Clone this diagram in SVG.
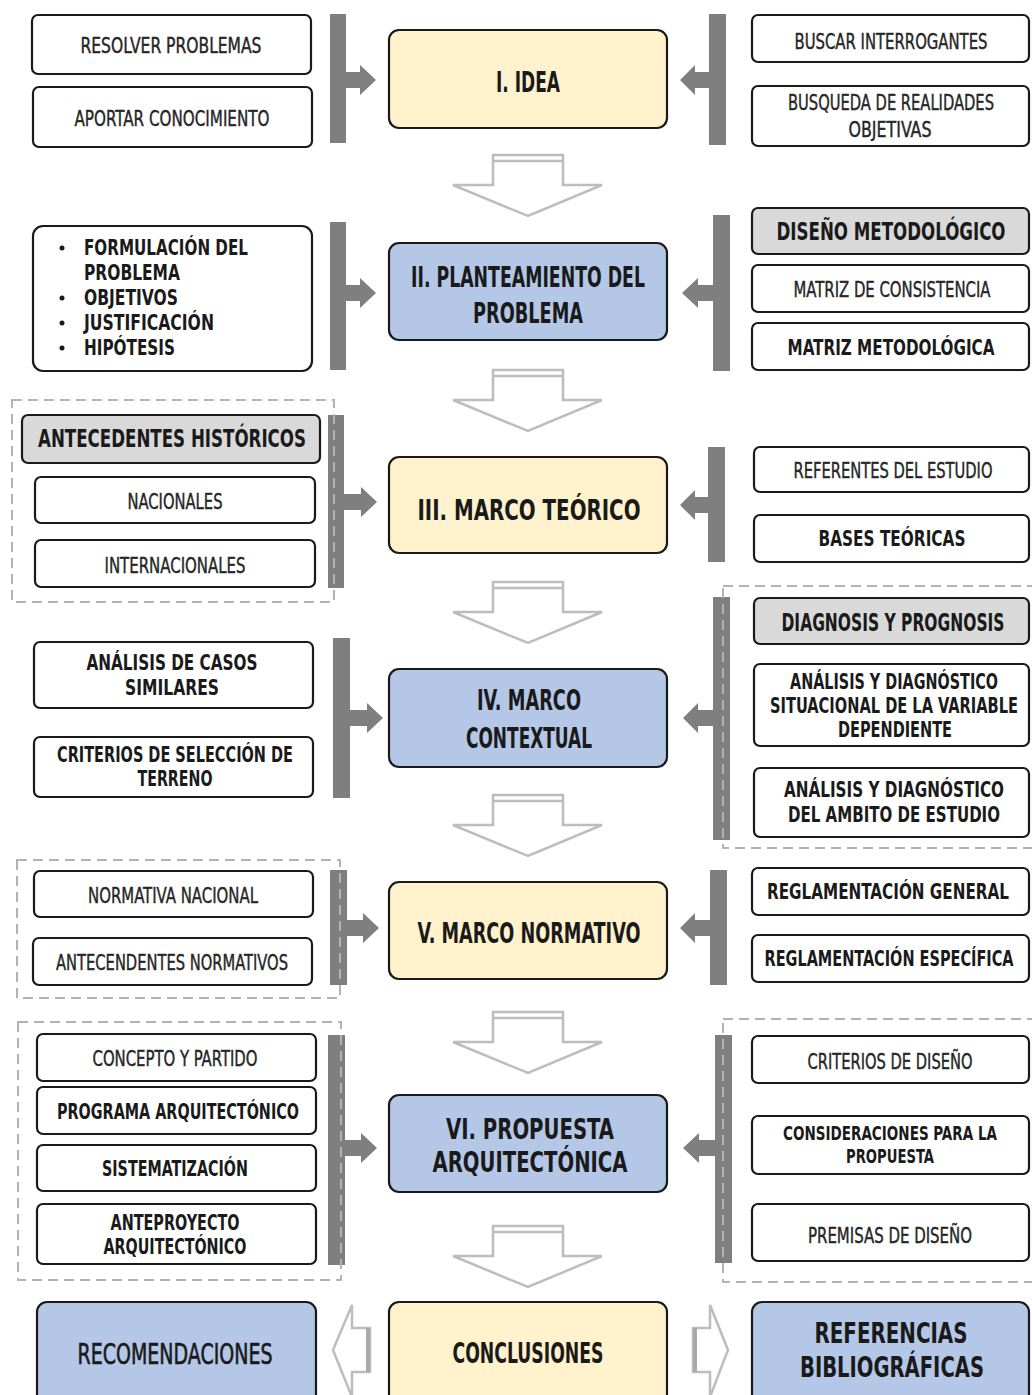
<svg xmlns="http://www.w3.org/2000/svg" width="1032" height="1395" viewBox="0 0 1032 1395">
<style>
.bx{stroke:#1a1a1a;stroke-width:2.2;fill:#ffffff}
.yl{fill:#FFF2CC}
.bl{fill:#B4C7E7}
.gr{fill:#D9D9D9}
.bar{fill:#7F7F7F}
.dash{fill:none;stroke:#B3B3B3;stroke-width:2;stroke-dasharray:10 6}
.hol{fill:#ffffff;stroke:#BDBDBD;stroke-width:2.5;stroke-linejoin:miter}
.t{font-family:"Liberation Sans Narrow","DejaVu Sans Condensed","Liberation Sans",Arial,sans-serif;font-stretch:condensed;text-anchor:middle;fill:#1a1a1a}
.lt{font-size:21px;font-weight:normal;fill:#262626;stroke:#262626;stroke-width:0.4}
.bd{font-size:21px;font-weight:bold}
.hd{font-size:24px;font-weight:bold}
.ct{font-size:29px;font-weight:bold}
.md{font-weight:normal;stroke:#1a1a1a;stroke-width:0.6}
.st{text-anchor:start}
</style>
<defs>
<g id="down">
<path class="hol" d="M-35,0 H35 V30 H74 L0,61 L-75,30 H-35 Z"/>
<path d="M-35,6 H35" stroke="#BDBDBD" stroke-width="2.5" fill="none"/>
</g>
</defs>
<rect width="1032" height="1395" fill="#ffffff"/>

<g id="connectors">
<!-- section 1 -->
<rect class="bar" x="330" y="14" width="16" height="129"/>
<path class="bar" d="M346,72 H360 V65 L376,80 L360,95 V88 H346 Z"/>
<rect class="bar" x="709" y="14" width="17" height="131"/>
<path class="bar" d="M709,72 H695 V65 L680,80 L695,95 V88 H709 Z"/>
<!-- section 2 -->
<rect class="bar" x="330" y="222" width="16" height="148"/>
<path class="bar" d="M346,285 H360 V278 L376,293 L360,308 V301 H346 Z"/>
<rect class="bar" x="713" y="215" width="17" height="156"/>
<path class="bar" d="M713,285 H698 V278 L682,293 L698,308 V301 H713 Z"/>
<!-- section 3 -->
<rect class="bar" x="328" y="415" width="16" height="173"/>
<path class="bar" d="M344,494 H361 V487 L377,502 L361,517 V510 H344 Z"/>
<rect class="bar" x="708" y="447" width="17" height="115"/>
<path class="bar" d="M708,497 H695 V490 L680,505 L695,520 V513 H708 Z"/>
<!-- section 4 -->
<rect class="bar" x="333" y="638" width="17" height="160"/>
<path class="bar" d="M350,710 H367 V703 L383,718 L367,733 V726 H350 Z"/>
<rect class="bar" x="713" y="597" width="17" height="243"/>
<path class="bar" d="M713,710 H698 V703 L683,718 L698,733 V726 H713 Z"/>
<!-- section 5 -->
<rect class="bar" x="330" y="870" width="17" height="115"/>
<path class="bar" d="M347,920 H363 V913 L379,928 L363,943 V936 H347 Z"/>
<rect class="bar" x="710" y="870" width="17" height="115"/>
<path class="bar" d="M710,920 H695 V913 L680,928 L695,943 V936 H710 Z"/>
<!-- section 6 -->
<rect class="bar" x="328" y="1035" width="17" height="230"/>
<path class="bar" d="M345,1140 H361 V1133 L377,1148 L361,1163 V1156 H345 Z"/>
<rect class="bar" x="715" y="1035" width="17" height="228"/>
<path class="bar" d="M715,1140 H699 V1133 L683,1148 L699,1163 V1156 H715 Z"/>

<!-- dashed groups -->
<rect class="dash" x="12" y="400" width="322" height="202"/>
<rect class="dash" x="723" y="586" width="320" height="262"/>
<rect class="dash" x="17" y="860" width="323" height="138"/>
<rect class="dash" x="18" y="1022" width="323" height="258"/>
<rect class="dash" x="723" y="1019" width="320" height="263"/>

<!-- down arrows -->
<use href="#down" x="528" y="155"/>
<use href="#down" x="528" y="370"/>
<use href="#down" x="528" y="582"/>
<use href="#down" x="528" y="795"/>
<use href="#down" x="528" y="1012"/>
<use href="#down" x="528" y="1226"/>

<!-- bottom hollow arrows -->
<path class="hol" d="M333,1350 L352,1305 V1328 H370 V1372 H352 V1397 Z"/>
<path d="M368,1328 V1372" stroke="#AAAAAA" stroke-width="4"/>
<path class="hol" d="M728,1350 L710,1305 V1328 H693 V1372 H710 V1397 Z"/>
<path d="M695,1328 V1372" stroke="#AAAAAA" stroke-width="4"/>
</g>

<!-- central nodes -->
<g id="n-idea"><rect class="bx yl" x="389" y="30" width="278" height="98" rx="10"/>
<text class="t ct" x="528" y="92" textLength="64" lengthAdjust="spacingAndGlyphs">I. IDEA</text></g>
<g id="n-planteamiento"><rect class="bx bl" x="389" y="243" width="278" height="97" rx="10"/>
<text class="t ct" x="528" y="287" textLength="234" lengthAdjust="spacingAndGlyphs">II. PLANTEAMIENTO DEL</text>
<text class="t ct" x="528" y="323" textLength="110" lengthAdjust="spacingAndGlyphs">PROBLEMA</text></g>
<g id="n-teorico"><rect class="bx yl" x="389" y="457" width="278" height="96" rx="10"/>
<text class="t ct" x="529" y="520" textLength="223" lengthAdjust="spacingAndGlyphs">III. MARCO TEÓRICO</text></g>
<g id="n-contextual"><rect class="bx bl" x="389" y="669" width="278" height="98" rx="10"/>
<text class="t ct" x="529" y="710" textLength="104" lengthAdjust="spacingAndGlyphs">IV. MARCO</text>
<text class="t ct" x="529" y="748" textLength="126" lengthAdjust="spacingAndGlyphs">CONTEXTUAL</text></g>
<g id="n-normativo"><rect class="bx yl" x="389" y="882" width="278" height="97" rx="10"/>
<text class="t ct" x="529" y="943" textLength="223" lengthAdjust="spacingAndGlyphs">V. MARCO NORMATIVO</text></g>
<g id="n-propuesta"><rect class="bx bl" x="389" y="1095" width="278" height="97" rx="10"/>
<text class="t ct" x="530" y="1139" textLength="168" lengthAdjust="spacingAndGlyphs">VI. PROPUESTA</text>
<text class="t ct" x="530" y="1172" textLength="195" lengthAdjust="spacingAndGlyphs">ARQUITECTÓNICA</text></g>
<g id="n-conclusiones"><rect class="bx yl" x="389" y="1302" width="278" height="110" rx="10"/>
<text class="t ct" x="528" y="1363" textLength="151" lengthAdjust="spacingAndGlyphs">CONCLUSIONES</text></g>
<g id="n-recomendaciones"><rect class="bx bl" x="37" y="1302" width="279" height="110" rx="10"/>
<text class="t ct md" x="175" y="1364" textLength="195" lengthAdjust="spacingAndGlyphs">RECOMENDACIONES</text></g>
<g id="n-referencias"><rect class="bx bl" x="752" y="1302" width="277" height="110" rx="10"/>
<text class="t ct" x="891" y="1343" textLength="153" lengthAdjust="spacingAndGlyphs">REFERENCIAS</text>
<text class="t ct" x="892" y="1377" textLength="184" lengthAdjust="spacingAndGlyphs">BIBLIOGRÁFICAS</text></g>

<!-- section 1 side nodes -->
<g id="n-resolver"><rect class="bx" x="32" y="15" width="279" height="59" rx="6"/>
<text class="t lt" x="171" y="53" textLength="181" lengthAdjust="spacingAndGlyphs">RESOLVER PROBLEMAS</text></g>
<g id="n-aportar"><rect class="bx" x="33" y="87" width="279" height="60" rx="6"/>
<text class="t lt" x="172" y="126" textLength="195" lengthAdjust="spacingAndGlyphs">APORTAR CONOCIMIENTO</text></g>
<g id="n-buscar"><rect class="bx" x="752" y="15" width="277" height="47" rx="6"/>
<text class="t lt" x="891" y="49" textLength="193" lengthAdjust="spacingAndGlyphs">BUSCAR INTERROGANTES</text></g>
<g id="n-busqueda"><rect class="bx" x="752" y="86" width="277" height="60" rx="6"/>
<text class="t lt" x="891" y="110" textLength="206" lengthAdjust="spacingAndGlyphs">BUSQUEDA DE REALIDADES</text>
<text class="t lt" x="890" y="137" textLength="83" lengthAdjust="spacingAndGlyphs">OBJETIVAS</text></g>

<!-- section 2 side nodes -->
<g id="n-lista"><rect class="bx" x="33" y="226" width="279" height="145" rx="10"/>
<circle cx="62" cy="248" r="2.5" fill="#1a1a1a"/>
<text class="t bd st" x="84" y="255" textLength="164" lengthAdjust="spacingAndGlyphs">FORMULACIÓN DEL</text>
<text class="t bd st" x="84" y="280" textLength="96" lengthAdjust="spacingAndGlyphs">PROBLEMA</text>
<circle cx="62" cy="298" r="2.5" fill="#1a1a1a"/>
<text class="t bd st" x="84" y="305" textLength="94" lengthAdjust="spacingAndGlyphs">OBJETIVOS</text>
<circle cx="62" cy="323" r="2.5" fill="#1a1a1a"/>
<text class="t bd st" x="84" y="330" textLength="130" lengthAdjust="spacingAndGlyphs">JUSTIFICACIÓN</text>
<circle cx="62" cy="348" r="2.5" fill="#1a1a1a"/>
<text class="t bd st" x="84" y="355" textLength="91" lengthAdjust="spacingAndGlyphs">HIPÓTESIS</text>
</g>
<g id="n-diseno-met"><rect class="bx gr" x="752" y="208" width="277" height="46" rx="6"/>
<text class="t hd" x="891" y="240" textLength="229" lengthAdjust="spacingAndGlyphs">DISEÑO METODOLÓGICO</text></g>
<g id="n-matriz-cons"><rect class="bx" x="752" y="265" width="277" height="47" rx="6"/>
<text class="t lt" x="892" y="297" textLength="197" lengthAdjust="spacingAndGlyphs">MATRIZ DE CONSISTENCIA</text></g>
<g id="n-matriz-met"><rect class="bx" x="752" y="323" width="277" height="47" rx="6"/>
<text class="t bd" x="891" y="355" textLength="207" lengthAdjust="spacingAndGlyphs">MATRIZ METODOLÓGICA</text></g>

<!-- section 3 side nodes -->
<g id="n-antecedentes"><rect class="bx gr" x="22" y="415" width="298" height="48" rx="6"/>
<text class="t hd" x="172" y="447" textLength="268" lengthAdjust="spacingAndGlyphs">ANTECEDENTES HISTÓRICOS</text></g>
<g id="n-nacionales"><rect class="bx" x="35" y="477" width="280" height="46" rx="6"/>
<text class="t lt" x="175" y="509" textLength="95" lengthAdjust="spacingAndGlyphs">NACIONALES</text></g>
<g id="n-internacionales"><rect class="bx" x="35" y="540" width="280" height="47" rx="6"/>
<text class="t lt" x="175" y="573" textLength="141" lengthAdjust="spacingAndGlyphs">INTERNACIONALES</text></g>
<g id="n-referentes"><rect class="bx" x="754" y="447" width="275" height="45" rx="6"/>
<text class="t lt" x="893" y="478" textLength="199" lengthAdjust="spacingAndGlyphs">REFERENTES DEL ESTUDIO</text></g>
<g id="n-bases"><rect class="bx" x="754" y="515" width="275" height="47" rx="6"/>
<text class="t bd" x="892" y="546" textLength="147" lengthAdjust="spacingAndGlyphs">BASES TEÓRICAS</text></g>

<!-- section 4 side nodes -->
<g id="n-casos"><rect class="bx" x="34" y="642" width="279" height="66" rx="6"/>
<text class="t bd" x="172" y="670" textLength="171" lengthAdjust="spacingAndGlyphs">ANÁLISIS DE CASOS</text>
<text class="t bd" x="172" y="695" textLength="94" lengthAdjust="spacingAndGlyphs">SIMILARES</text></g>
<g id="n-terreno"><rect class="bx" x="34" y="737" width="279" height="60" rx="6"/>
<text class="t bd" x="175" y="762" textLength="236" lengthAdjust="spacingAndGlyphs">CRITERIOS DE SELECCIÓN DE</text>
<text class="t bd" x="175" y="786" textLength="75" lengthAdjust="spacingAndGlyphs">TERRENO</text></g>
<g id="n-diagnosis"><rect class="bx gr" x="754" y="598" width="275" height="46" rx="6"/>
<text class="t hd" x="893" y="631" textLength="223" lengthAdjust="spacingAndGlyphs">DIAGNOSIS Y PROGNOSIS</text></g>
<g id="n-variable"><rect class="bx" x="754" y="664" width="275" height="82" rx="6"/>
<text class="t bd" x="894" y="689" textLength="208" lengthAdjust="spacingAndGlyphs">ANÁLISIS Y DIAGNÓSTICO</text>
<text class="t bd" x="894" y="713" textLength="248" lengthAdjust="spacingAndGlyphs">SITUACIONAL DE LA VARIABLE</text>
<text class="t bd" x="895" y="737" textLength="114" lengthAdjust="spacingAndGlyphs">DEPENDIENTE</text></g>
<g id="n-ambito"><rect class="bx" x="754" y="768" width="275" height="69" rx="6"/>
<text class="t bd" x="894" y="797" textLength="220" lengthAdjust="spacingAndGlyphs">ANÁLISIS Y DIAGNÓSTICO</text>
<text class="t bd" x="894" y="822" textLength="212" lengthAdjust="spacingAndGlyphs">DEL AMBITO DE ESTUDIO</text></g>

<!-- section 5 side nodes -->
<g id="n-norm-nac"><rect class="bx" x="34" y="871" width="279" height="46" rx="6"/>
<text class="t lt" x="173" y="903" textLength="170" lengthAdjust="spacingAndGlyphs">NORMATIVA NACIONAL</text></g>
<g id="n-norm-ant"><rect class="bx" x="33" y="938" width="279" height="47" rx="6"/>
<text class="t lt" x="172" y="970" textLength="232" lengthAdjust="spacingAndGlyphs">ANTECENDENTES NORMATIVOS</text></g>
<g id="n-regl-gen"><rect class="bx" x="752" y="868" width="277" height="47" rx="6"/>
<text class="t bd" x="888" y="899" textLength="242" lengthAdjust="spacingAndGlyphs">REGLAMENTACIÓN GENERAL</text></g>
<g id="n-regl-esp"><rect class="bx" x="752" y="935" width="277" height="47" rx="6"/>
<text class="t bd" x="889" y="966" textLength="249" lengthAdjust="spacingAndGlyphs">REGLAMENTACIÓN ESPECÍFICA</text></g>

<!-- section 6 side nodes -->
<g id="n-concepto"><rect class="bx" x="37" y="1034" width="279" height="47" rx="6"/>
<text class="t lt" x="175" y="1066" textLength="165" lengthAdjust="spacingAndGlyphs">CONCEPTO Y PARTIDO</text></g>
<g id="n-programa"><rect class="bx" x="37" y="1087" width="279" height="47" rx="6"/>
<text class="t bd" x="178" y="1119" textLength="242" lengthAdjust="spacingAndGlyphs">PROGRAMA ARQUITECTÓNICO</text></g>
<g id="n-sistematizacion"><rect class="bx" x="37" y="1145" width="279" height="46" rx="6"/>
<text class="t bd" x="175" y="1176" textLength="146" lengthAdjust="spacingAndGlyphs">SISTEMATIZACIÓN</text></g>
<g id="n-anteproyecto"><rect class="bx" x="37" y="1204" width="279" height="60" rx="6"/>
<text class="t bd" x="175" y="1230" textLength="129" lengthAdjust="spacingAndGlyphs">ANTEPROYECTO</text>
<text class="t bd" x="175" y="1254" textLength="143" lengthAdjust="spacingAndGlyphs">ARQUITECTÓNICO</text></g>
<g id="n-criterios"><rect class="bx" x="752" y="1036" width="277" height="47" rx="6"/>
<text class="t lt" x="890" y="1069" textLength="165" lengthAdjust="spacingAndGlyphs">CRITERIOS DE DISEÑO</text></g>
<g id="n-consideraciones"><rect class="bx" x="752" y="1116" width="277" height="58" rx="6"/>
<text class="t bd" style="font-size:19px" x="890" y="1140" textLength="214" lengthAdjust="spacingAndGlyphs">CONSIDERACIONES  PARA LA</text>
<text class="t bd" style="font-size:19px" x="890" y="1163" textLength="88" lengthAdjust="spacingAndGlyphs">PROPUESTA</text></g>
<g id="n-premisas"><rect class="bx" x="752" y="1204" width="277" height="57" rx="6"/>
<text class="t lt" x="890" y="1243" textLength="164" lengthAdjust="spacingAndGlyphs">PREMISAS DE DISEÑO</text></g>
</svg>
